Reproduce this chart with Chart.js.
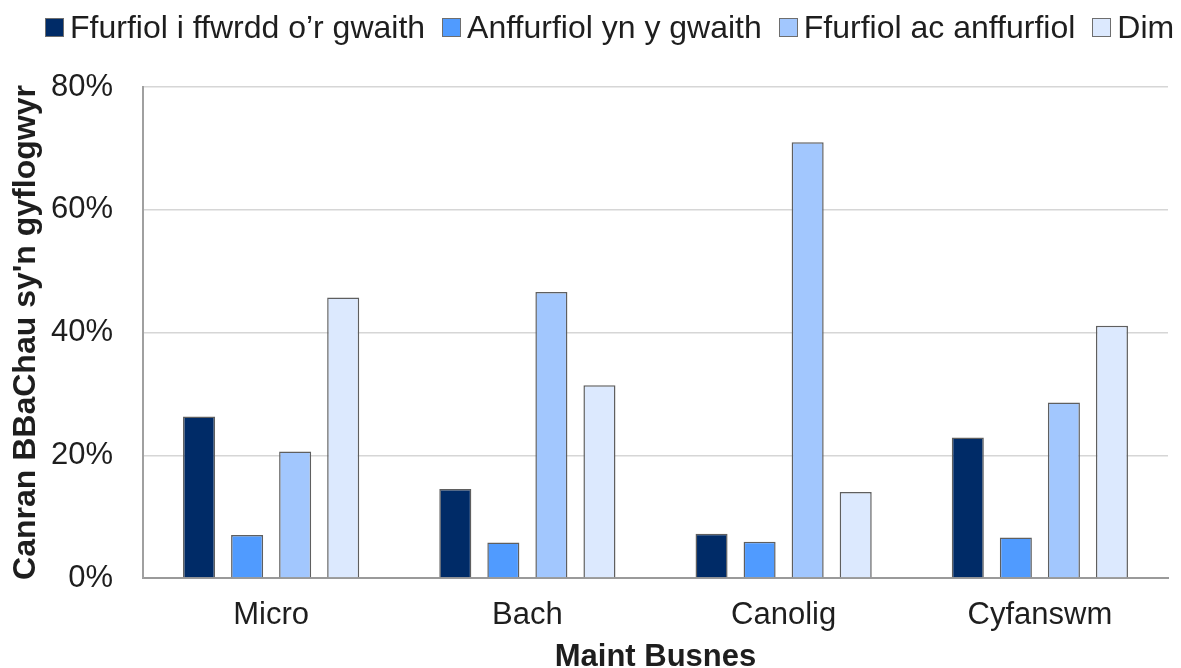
<!DOCTYPE html>
<html>
<head>
<meta charset="utf-8">
<script src="https://cdn.jsdelivr.net/npm/chart.js@4/dist/chart.umd.min.js"></script>
<style>
  html, body { margin: 0; padding: 0; background: #ffffff; }
  #wrap { position: relative; width: 1181px; height: 668px; overflow: hidden; }
  #chart { position: absolute; left: 0; top: 0; }
  #legend { position: absolute; left: 45px; top: 11px; height: 32px; display: flex; gap: 17px;
            font-family: "Liberation Sans", Arial, sans-serif; font-size: 32px; line-height: 32px; color: #1e1e1e; white-space: nowrap; }
  .item { display: flex; align-items: center; }
  .box { width: 19px; height: 19px; box-sizing: border-box; border: 1.5px solid #6e6e6e; margin-right: 6px; }
</style>
</head>
<body>
<div id="wrap">
  <canvas id="chart" width="1181" height="668"></canvas>
  <div id="legend"></div>
</div>
<script>
const categories = ['Micro', 'Bach', 'Canolig', 'Cyfanswm'];
const seriesNames = ['Ffurfiol i ffwrdd o’r gwaith', 'Anffurfiol yn y gwaith', 'Ffurfiol ac anffurfiol', 'Dim'];
const formalOffJob = [26.3, 14.5, 7.2, 22.9];
const informalOnJob = [7.0, 5.8, 5.9, 6.6];
const formalAndInformal = [20.6, 46.6, 71.0, 28.6];
const noneValues = [45.7, 31.4, 14.0, 41.1];
const yTickValues = [0, 20, 40, 60, 80];
const yTitle = "Canran BBaChau sy'n gyflogwyr";
const xTitle = 'Maint Busnes';

const seriesColors = ['#002b67', '#509bff', '#a2c7fe', '#dce9fe'];
const seriesValues = [formalOffJob, informalOnJob, formalAndInformal, noneValues];
const FONT = '"Liberation Sans", Arial, sans-serif';

const datasets = seriesNames.map((name, i) => ({
  label: name,
  data: seriesValues[i],
  backgroundColor: seriesColors[i],
  borderColor: '#5f5f5f',
  borderWidth: 1.5,
  categoryPercentage: 0.75,
  barPercentage: 0.667
}));

// HTML legend built from the dataset definitions
const legendEl = document.getElementById('legend');
datasets.forEach(ds => {
  const it = document.createElement('div');
  it.className = 'item';
  const b = document.createElement('span');
  b.className = 'box';
  b.style.background = ds.backgroundColor;
  const t = document.createElement('span');
  t.textContent = ds.label;
  it.appendChild(b); it.appendChild(t);
  legendEl.appendChild(it);
});

new Chart(document.getElementById('chart'), {
  type: 'bar',
  data: { labels: categories, datasets },
  options: {
    responsive: false,
    animation: false,
    layout: { padding: { top: 87, right: 13, left: 0, bottom: 0 } },
    plugins: { legend: { display: false }, tooltip: { enabled: false } },
    scales: {
      x: {
        grid: { display: false, drawTicks: false, tickLength: 0 },
        border: { display: true, color: '#9a9a9a', width: 2 },
        ticks: { color: '#1e1e1e', font: { family: FONT, size: 31 }, padding: 19 },
        title: { display: true, text: xTitle, color: '#1e1e1e',
                 font: { family: FONT, size: 31, weight: 'bold', lineHeight: 0.7 }, padding: 0 },
        afterFit: (s) => { s.height = 90; }
      },
      y: {
        min: 0, max: 80,
        afterBuildTicks: (s) => { s.ticks = yTickValues.map(v => ({ value: v })); },
        grid: { color: '#d6d6d6', lineWidth: 1.5, drawTicks: false, tickLength: 0 },
        border: { display: true, color: '#a0a0a0', width: 2 },
        ticks: { color: '#1e1e1e', font: { family: FONT, size: 31 }, padding: 30,
                 callback: (v) => v + '%' },
        title: { display: true, text: yTitle, color: '#1e1e1e',
                 font: { family: FONT, size: 32, weight: 'bold', lineHeight: 1.2 }, padding: { top: 7, bottom: 0 } },
        afterFit: (s) => { s.width = 143; }
      }
    }
  }
});
</script>
</body>
</html>
